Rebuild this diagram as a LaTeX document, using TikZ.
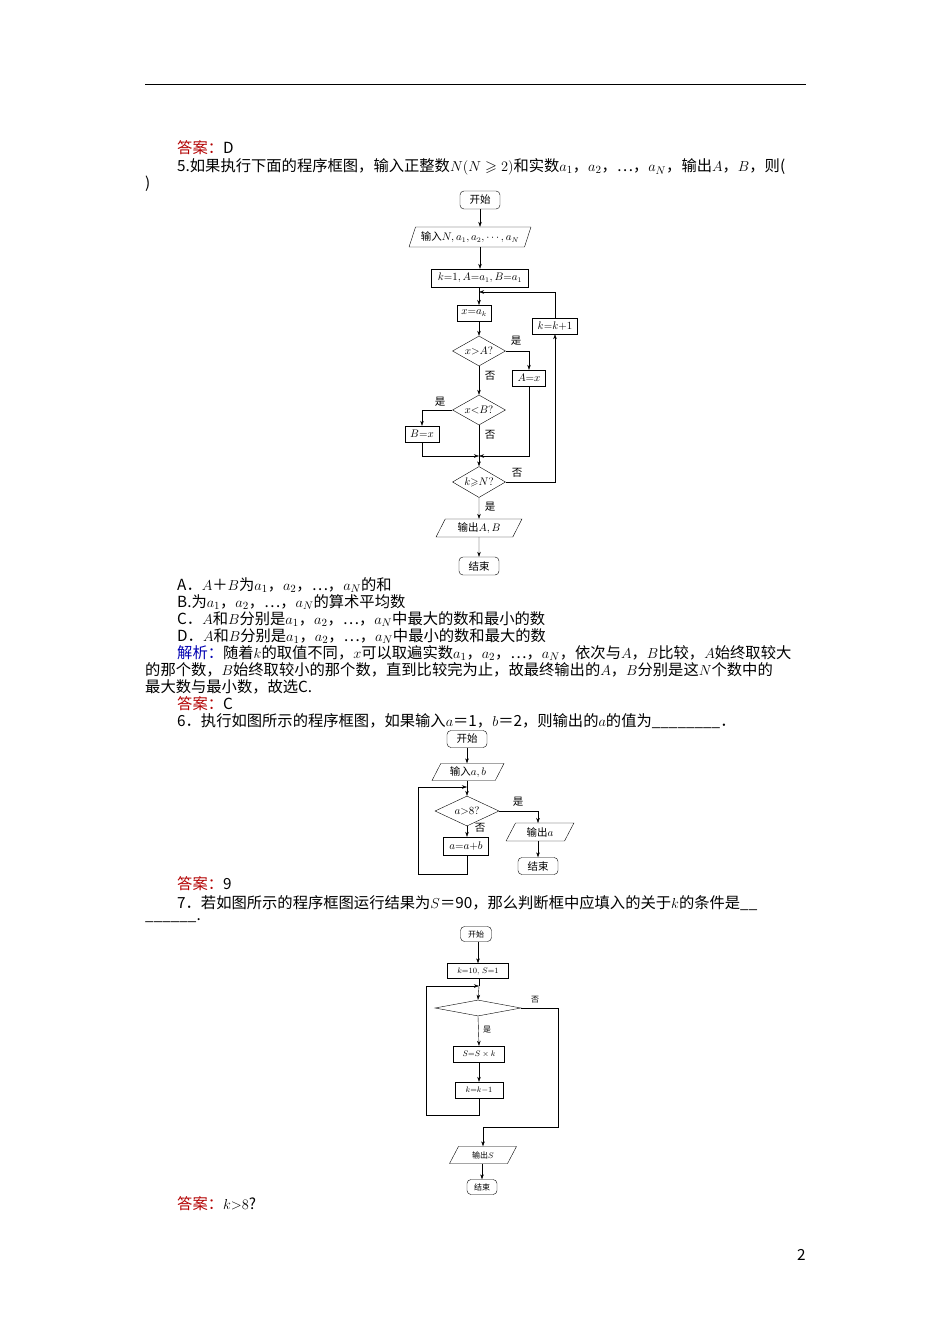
\documentclass[tikz,border=0pt]{standalone}
\usepackage{amssymb}
\usepackage{fontspec}
\setmainfont{Noto Sans CJK SC}
\usetikzlibrary{shapes.geometric,arrows.meta}
\begin{document}
\begin{tikzpicture}[x=1pt,y=-1pt,
  txt/.style={anchor=west,inner sep=0pt,font=\fontsize{15.3}{17}\selectfont},
  fa/.style={font=\fontsize{10.5}{12}\selectfont},
  fb/.style={font=\fontsize{8}{9}\selectfont},
  pbox/.style={draw,thin,inner sep=0pt},
  term/.style={draw,thin,rounded corners=4pt,inner sep=0pt},
  dia/.style={draw,thin,diamond,aspect=1.8,inner sep=0pt},
  para/.style={draw,thin,trapezium,trapezium left angle=62,trapezium right angle=118,inner sep=0pt,trapezium stretches=true},
  arr/.style={thin,-{Stealth[length=5pt,width=3.5pt]}},
  ln/.style={thin},
  lab/.style={inner sep=0pt}]
\useasboundingbox (0,0) rectangle (950,1344);
\draw[thin] (145,84) -- (806,84);
\node[txt] (t1) at (177,148) {\textcolor{red!70!black}{答案：}D};
\node[txt] (t2) at (177,167) {5.如果执行下面的程序框图，输入正整数$N(N\geqslant 2)$和实数$a_1$，$a_2$，…，$a_N$，输出$A$，$B$，则(};
\node[txt] (t3) at (145,184) {)};
% chart 1
\begin{scope}[every node/.append style={fa}]
\node[term,minimum width=40,minimum height=18] (s1) at (480,200) {开始};
\node[para,minimum width=122,minimum height=20] (in1) at (470,237) {输入$N,a_1,a_2,\cdots,a_N$};
\node[pbox,minimum width=97,minimum height=18] (init1) at (480,278) {$k{=}1,A{=}a_1,B{=}a_1$};
\node[pbox,minimum width=34,minimum height=16] (xa) at (474,313) {$x{=}a_k$};
\node[dia,minimum width=53,minimum height=30] (d1) at (479,351) {$x{>}A?$};
\node[pbox,minimum width=33,minimum height=16] (ax) at (529,378) {$A{=}x$};
\node[pbox,minimum width=45,minimum height=16] (kk) at (555,326) {$k{=}k{+}1$};
\node[dia,minimum width=53,minimum height=30] (d2) at (479,410) {$x{<}B?$};
\node[pbox,minimum width=34,minimum height=16] (bx) at (422,434) {$B{=}x$};
\node[dia,minimum width=53,minimum height=31] (d3) at (479,482) {$k{\geqslant}N?$};
\node[para,minimum width=86,minimum height=18] (out1) at (479,528) {输出$A,B$};
\node[term,minimum width=40,minimum height=18] (e1) at (479,566) {结束};
\node[lab] at (516,341) {是};
\node[lab] at (490,376) {否};
\node[lab] at (440,402) {是};
\node[lab] at (490,435) {否};
\node[lab] at (517,473) {否};
\node[lab] at (490,507) {是};
\end{scope}
\coordinate (m1) at (479,292);
\coordinate (m2) at (479,456);
\draw[arr] (s1) -- (s1|-in1.north);
\draw[arr] (in1.south-|s1) -- (s1|-init1.north);
\draw[arr] (479,287) -- (479,305);
\draw[arr] (479,321) -- (d1.north);
\draw[arr] (d1.east) -| (ax.north);
\draw[arr] (d1.south) -- (d2.north);
\draw[arr] (d2.west) -| (bx.north);
\draw[arr] (bx.south) |- (m2);
\draw[arr] (ax.south) |- (m2);
\draw[arr] (d2.south) -- (d3.north);
\draw[arr] (d3.east) -| (kk.south);
\draw[arr] (kk.north) |- (m1);
\draw[arr] (d3.south) -- (out1.north);
\draw[arr] (out1.south) -- (e1.north);
% options
\node[txt] at (177,585) {A．$A$＋$B$为$a_1$，$a_2$，…，$a_N$的和};
\node[txt] at (177,602) {B.为$a_1$，$a_2$，…，$a_N$的算术平均数};
\node[txt] at (177,619) {C．$A$和$B$分别是$a_1$，$a_2$，…，$a_N$中最大的数和最小的数};
\node[txt] at (177,636) {D．$A$和$B$分别是$a_1$，$a_2$，…，$a_N$中最小的数和最大的数};
\node[txt] at (177,653) {\textcolor{blue!70!black}{解析：}随着$k$的取值不同，$x$可以取遍实数$a_1$，$a_2$，…，$a_N$，依次与$A$，$B$比较，$A$始终取较大};
\node[txt] at (145,670) {的那个数，$B$始终取较小的那个数，直到比较完为止，故最终输出的$A$，$B$分别是这$N$个数中的};
\node[txt] at (145,687) {最大数与最小数，故选C.};
\node[txt] at (177,704) {\textcolor{red!70!black}{答案：}C};
\node[txt] at (177,721) {6．执行如图所示的程序框图，如果输入$a$＝1，$b$＝2，则输出的$a$的值为\_\_\_\_\_\_\_\_．};
% chart 2
\begin{scope}[every node/.append style={fa}]
\node[term,minimum width=40,minimum height=17] (s2) at (467,739) {开始};
\node[para,minimum width=72,minimum height=17] (in2) at (468,772) {输入$a,b$};
\node[dia,minimum width=64,minimum height=30] (d4) at (467,811) {$a{>}8?$};
\node[pbox,minimum width=45,minimum height=18] (ab) at (466,846) {$a{=}a{+}b$};
\node[para,minimum width=68,minimum height=18] (out2) at (540,832) {输出$a$};
\node[term,minimum width=40,minimum height=17] (e2) at (538,866) {结束};
\node[lab] at (518,802) {是};
\node[lab] at (480,828) {否};
\end{scope}
\coordinate (m3) at (467,787);
\draw[arr] (s2) -- (s2|-in2.north);
\draw[ln] (in2.south-|s2) -- (m3);
\draw[arr] (m3) -- (d4.north);
\draw[arr] (d4.south) -- (ab.north-|d4);
\draw[arr] (d4.east) -| (538,823);
\draw[arr] (538,841) -- (e2.north);
\draw[arr] (ab.south-|d4) -- (467,874) -| (418,787) -- (m3);
\node[txt] at (177,884) {\textcolor{red!70!black}{答案：}9};
\node[txt] at (177,903) {7．若如图所示的程序框图运行结果为$S$＝90，那么判断框中应填入的关于$k$的条件是\_\_};
\node[txt] at (145,921) {\_\_\_\_\_\_.};
% chart 3
\begin{scope}[every node/.append style={fb}]
\node[term,minimum width=31,minimum height=15] (s3) at (476,934) {开始};
\node[pbox,minimum width=61,minimum height=15] (init3) at (478,971) {$k{=}10,\,S{=}1$};
\node[diamond,draw,thin,aspect=5.4,inner sep=0pt,minimum width=86,minimum height=16] (d5) at (478,1008) {};
\node[pbox,minimum width=51,minimum height=16] (ss) at (479,1054) {$S{=}S\times k$};
\node[pbox,minimum width=48,minimum height=16] (k3) at (479,1090) {$k{=}k{-}1$};
\node[para,minimum width=67,minimum height=17] (out3) at (483,1155) {输出$S$};
\node[term,minimum width=30,minimum height=15] (e3) at (482,1187) {结束};
\node[lab] at (535,1000) {否};
\node[lab] at (487,1030) {是};
\end{scope}
\coordinate (m4) at (479,986);
\draw[arr] (s3.south-|init3) -- (init3.north);
\draw[ln] (init3.south-|m4) -- (m4);
\draw[arr] (m4) -- (d5.north);
\draw[arr] (d5.south) -- (ss.north);
\draw[arr] (ss.south) -- (k3.north);
\draw[arr] (k3.south) -- (479,1115) -| (426,986) -- (m4);
\draw[arr] (d5.east) -| (558,1127) -| (out3.north);
\draw[arr] (out3.south-|e3) -- (e3.north);
\node[txt] at (177,1204) {\textcolor{red!70!black}{答案：}$k{>}8$?};
\node[txt] at (797,1255) {2};
\end{tikzpicture}
\end{document}
